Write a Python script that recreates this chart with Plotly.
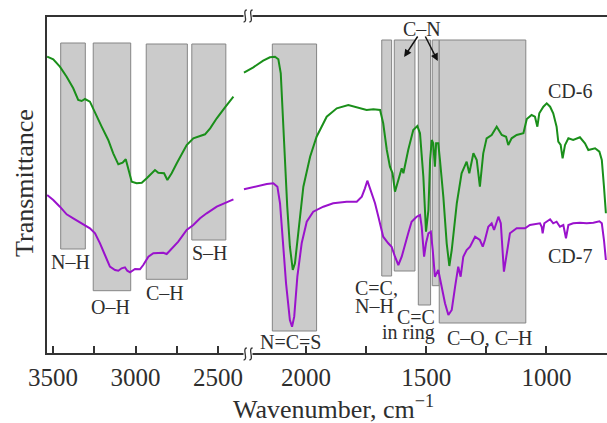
import plotly.graph_objects as go

# ---------------- data (wavenumber, cm^-1 ; transmittance, arb. units) ----------------
cd6_left_wn = [3535, 3498, 3458, 3417, 3377, 3347, 3326, 3306, 3276, 3245, 3205, 3165, 3135, 3104,
               3078, 3059, 3050, 3023, 2993, 2962, 2932, 2902, 2882, 2862, 2827, 2807, 2781, 2750,
               2720, 2690, 2650, 2609, 2579, 2548, 2508, 2458, 2407]
cd6_left_t = [297.3, 294.7, 287.3, 277.3, 265.7, 254, 253, 255, 252.3, 240.7, 227.3, 214, 200.7, 189.7,
              191.3, 194.7, 189, 172.3, 170.7, 171.3, 175.7, 180.7, 184, 181.3, 180.7, 174, 180.7, 190.7,
              200.7, 209, 215.7, 218, 219.7, 225.7, 235.7, 246.7, 257.3]

cd7_left_wn = [3535, 3498, 3458, 3417, 3377, 3326, 3276, 3245, 3215, 3185, 3155, 3124, 3104, 3084,
               3064, 3050, 3033, 3003, 2973, 2953, 2922, 2892, 2862, 2832, 2811, 2781, 2741, 2690,
               2650, 2609, 2569, 2508, 2458, 2407]
cd7_left_t = [159, 154, 147.3, 139.7, 135.7, 130.7, 125.7, 120.7, 110.7, 99, 87.3, 84, 83.3, 85.7,
              86.7, 83.3, 81.7, 85, 84.7, 89, 97.3, 100.7, 101.3, 101.3, 100, 105.7, 112.3, 124,
              129, 135.7, 140.7, 147.3, 150.7, 154.7]

cd6_right_wn = [2258, 2219, 2178, 2150, 2129, 2115, 2105, 2097, 2087, 2078, 2067, 2055, 2046, 2032,
                2011, 1983, 1956, 1914, 1872, 1824, 1789, 1748, 1720, 1692, 1679, 1664, 1651, 1640,
                1630, 1616, 1602, 1595, 1575, 1554, 1537, 1526, 1512, 1501, 1491, 1484, 1477, 1471,
                1464, 1459, 1450, 1443, 1429, 1415, 1404, 1394, 1373, 1353, 1332, 1321, 1304, 1290,
                1277, 1263, 1249, 1228, 1207, 1186, 1168, 1159, 1145, 1124, 1096, 1082, 1062, 1048,
                1038, 1030, 1013, 999, 985, 972, 958, 951, 941, 933, 923, 909, 889, 861,
                840, 826, 798, 780, 770, 761, 753]
cd6_right_t = [281.3, 286.7, 293.3, 296.7, 297.3, 294.7, 280.7, 240.7, 190.7, 147.3, 107.3, 84, 90.7, 124,
               167.3, 197.3, 217.3, 237.3, 245.7, 249, 246.7, 244, 244.7, 244, 230.7, 204, 187.3, 180.7,
               162.3, 174, 185.7, 180.7, 204, 224, 228, 220.7, 177.3, 122.3, 144, 194, 214, 210.7,
               187.3, 210.7, 210.7, 194, 157.3, 110.7, 88, 104, 150.7, 180.7, 192.3, 180.7, 200.7, 194,
               167.3, 200.7, 215.7, 219, 227.3, 219, 217.3, 209, 215.7, 219, 220.7, 235, 239, 237.3,
               227.3, 240.7, 247.3, 250.7, 247.3, 240.7, 227.3, 212.3, 209, 195.7, 209, 215.7, 214, 216.7,
               210.7, 204, 205.7, 202.3, 194, 167.3, 140.7]

cd7_right_wn = [2258, 2205, 2163, 2136, 2119, 2108, 2097, 2083, 2067, 2058,
                2049, 2036, 2018, 1997, 1970, 1928, 1887, 1831, 1789, 1768,
                1755, 1745, 1734, 1713, 1699, 1679, 1658, 1644, 1630, 1616,
                1602, 1588, 1575, 1561, 1540, 1526, 1519, 1509, 1501, 1491,
                1481, 1473, 1464, 1450, 1436, 1422, 1408, 1394, 1380, 1367,
                1357, 1346, 1332, 1318, 1297, 1277, 1265, 1256, 1242, 1228,
                1218, 1200, 1190, 1182, 1177, 1165, 1152, 1124, 1089, 1069,
                1048, 1027, 1020, 1016, 1009, 985, 972, 958, 944, 930,
                919, 909, 889, 861, 833, 805, 780, 770, 761, 753]
cd7_right_t = [164.7, 168, 170, 170.7, 167.3, 150.7, 110.7, 70.7, 34, 27.3,
               37.3, 77.3, 110.7, 132.3, 142.3, 147.3, 150.7, 152.3, 152.3, 157.3,
               165.7, 173.3, 165.7, 150.7, 137.3, 117.3, 110.7, 107.3, 97.3, 89,
               97.3, 110.7, 120.7, 132.3, 137.3, 139, 127.3, 97.3, 110.7, 120.7,
               122.3, 104, 77.3, 84, 67.3, 50.7, 39, 44, 67.3, 87.3,
               77.3, 97.3, 104, 107.3, 117.3, 114, 107.3, 114, 127.3, 130.7,
               124, 137.3, 130.7, 100.7, 82.3, 100.7, 120.7, 125.7, 125.7, 129,
               130, 130.7, 127.3, 120.7, 130.7, 134.7, 130.7, 132.3, 127.3, 129,
               115.7, 129, 130.7, 131.3, 130.7, 131.3, 132.7, 130.7, 114, 94]

# absorption band regions
left_band_start = [3453, 3256, 2935, 2659]
left_band_end = [3304, 3029, 2686, 2453]
left_band_top = [311, 311, 310, 310]
left_band_bottom = [105, 63.3, 74.7, 114]
right_band_start = [2140, 1685, 1633, 1533, 1475, 1446]
right_band_end = [1956, 1644, 1547, 1482, 1446, 1086]
right_band_top = [310, 314, 314, 314, 314, 314]
right_band_bottom = [23, 78, 83, 49, 68.3, 31]

left_ticks = [3500, 3250, 3000, 2750, 2500]
left_ticktext = ["3500", "", "3000", "", "2500"]
right_ticks = [2000, 1750, 1500, 1250, 1000, 750]
right_ticktext = ["2000", "", "1500", "", "1000", ""]

GREEN = "#1a8f1a"
PURPLE = "#9a12cc"
TXT = "#2e2e2e"
FONT = "Liberation Serif, Times New Roman, serif"

fig = go.Figure()
fig.add_trace(go.Scatter(x=cd6_left_wn, y=cd6_left_t, mode="lines", line=dict(color=GREEN, width=2),
                         xaxis="x", yaxis="y", showlegend=False))
fig.add_trace(go.Scatter(x=cd7_left_wn, y=cd7_left_t, mode="lines", line=dict(color=PURPLE, width=2),
                         xaxis="x", yaxis="y", showlegend=False))
fig.add_trace(go.Scatter(x=cd6_right_wn, y=cd6_right_t, mode="lines", line=dict(color=GREEN, width=2),
                         xaxis="x2", yaxis="y", showlegend=False))
fig.add_trace(go.Scatter(x=cd7_right_wn, y=cd7_right_t, mode="lines", line=dict(color=PURPLE, width=2),
                         xaxis="x2", yaxis="y", showlegend=False))

shapes = []
for s, e, t, b in zip(left_band_start, left_band_end, left_band_top, left_band_bottom):
    shapes.append(dict(type="rect", xref="x", yref="y", x0=s, x1=e, y0=b, y1=t,
                       fillcolor="#cbcbcb", line=dict(color="#858585", width=1), layer="below"))
for s, e, t, b in zip(right_band_start, right_band_end, right_band_top, right_band_bottom):
    shapes.append(dict(type="rect", xref="x2", yref="y", x0=s, x1=e, y0=b, y1=t,
                       fillcolor="#cbcbcb", line=dict(color="#858585", width=1), layer="below"))

W = 561.0
H = 338.0
def px(v):
    return (v - 46) / W
def py(v):
    return (354 - v) / H

AX = dict(color="#333333", width=2)
# frame lines with break
shapes.append(dict(type="line", xref="paper", yref="paper", x0=0, x1=0, y0=0, y1=1, line=AX, layer="above"))
for yy in (0, 1):
    shapes.append(dict(type="line", xref="paper", yref="paper", x0=px(45), x1=px(243.5), y0=yy, y1=yy,
                       line=AX, layer="above"))
    shapes.append(dict(type="line", xref="paper", yref="paper", x0=px(252.5), x1=1.0, y0=yy, y1=yy,
                       line=AX, layer="above"))
# break marks
for ycen in (16, 354):
    for xc in (245.2, 251.0):
        yt = py(ycen - 6)
        yb = py(ycen + 6)
        hw = 1.6 / W
        x = px(xc)
        path = f"M {x+hw},{yt} C {x-2.2*hw},{yt} {x+2.2*hw},{yb} {x-hw},{yb}"
        shapes.append(dict(type="path", xref="paper", yref="paper", path=path,
                           line=dict(color="#333333", width=1.3), layer="above"))

annotations = []
def label(text, x, y, xref, xanchor="center", size=20):
    annotations.append(dict(text=text, x=x, y=y, xref=xref, yref="y", showarrow=False,
                            xanchor=xanchor, yanchor="middle",
                            font=dict(family=FONT, size=size, color=TXT)))

label("N–H", 3395, 92.3, "x")
label("O–H", 3150, 47.3, "x")
label("C–H", 2821, 61.3, "x")
label("S–H", 2546, 100.7, "x")
label("N=C=S", 2063, 12.3, "x2")
label("C=C,", 1806, 66.5, "x2", xanchor="left")
label("N–H", 1806, 48, "x2", xanchor="left")
label("C=C", 1456, 37, "x2", xanchor="right")
label("in ring", 1456, 22, "x2", xanchor="right")
label("C–O, C–H", 1235, 16.5, "x2")
label("C–N", 1519, 325, "x2")
label("CD-6", 903, 263, "x2")
label("CD-7", 903, 98, "x2")

# arrows for C–N
annotations.append(dict(x=1592, y=297, xref="x2", yref="y", ax=14.5, ay=-22, text="",
                        showarrow=True, arrowhead=2, arrowsize=1, arrowwidth=1.5, arrowcolor="#111"))
annotations.append(dict(x=1452, y=293, xref="x2", yref="y", ax=-13.2, ay=-26, text="",
                        showarrow=True, arrowhead=2, arrowsize=1, arrowwidth=1.5, arrowcolor="#111"))

# axis titles
annotations.append(dict(text="Wavenumber, cm<sup>−1</sup>", x=px(333), y=py(407), xref="paper", yref="paper",
                        showarrow=False, xanchor="center", yanchor="middle",
                        font=dict(family=FONT, size=26, color=TXT)))
annotations.append(dict(text="Transmittance", x=px(24), y=py(183), xref="paper", yref="paper",
                        showarrow=False, xanchor="center", yanchor="middle", textangle=-90,
                        font=dict(family=FONT, size=26, color=TXT)))

d1 = px(243)
tickfont = dict(family=FONT, size=25, color=TXT)
fig.update_layout(
    width=607, height=423,
    margin=dict(l=46, r=0, t=16, b=69, autoexpand=False),
    paper_bgcolor="white", plot_bgcolor="white",
    xaxis=dict(domain=[0, d1], range=[3542, 2349], showgrid=False, zeroline=False, showline=False,
               tickvals=left_ticks, ticktext=left_ticktext, ticks="inside", ticklen=8, tickwidth=1.5,
               tickcolor="#333333", tickfont=tickfont, ticklabelstandoff=6, anchor="y", automargin=False),
    xaxis2=dict(domain=[d1, 1], range=[2262, 748.4], showgrid=False, zeroline=False, showline=False,
                tickvals=right_ticks, ticktext=right_ticktext, ticks="inside", ticklen=8, tickwidth=1.5,
                tickcolor="#333333", tickfont=tickfont, ticklabelstandoff=6, anchor="y", automargin=False),
    yaxis=dict(range=[0, 338], visible=False, automargin=False),
    shapes=shapes,
    annotations=annotations,
)

fig.write_html("out.html", config={"displayModeBar": False},
               post_script="document.body.style.margin='0px';document.body.style.overflow='hidden';")
